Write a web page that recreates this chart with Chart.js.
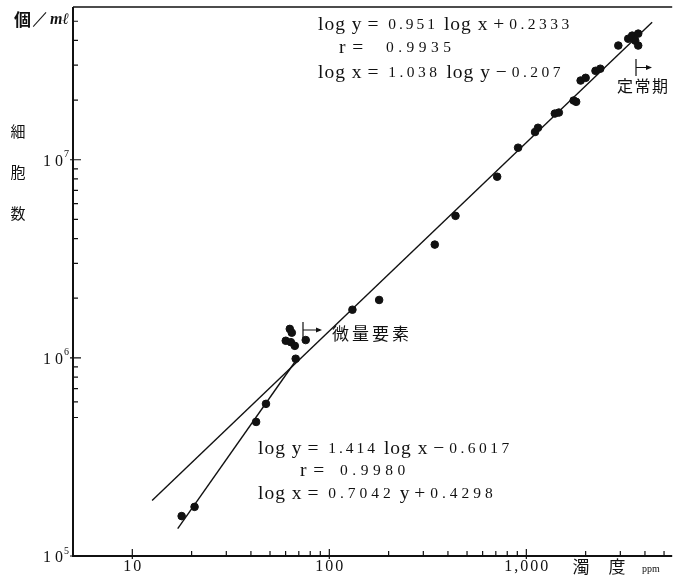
<!DOCTYPE html>
<html>
<head>
<meta charset="utf-8">
<script src="https://cdn.jsdelivr.net/npm/chart.js@4"></script>
<style>
  body { margin: 0; background: #fff; }
  canvas { display: block; }
</style>
</head>
<body>
<canvas id="myChart" width="677" height="578"></canvas>
<script>
// turbidity (ppm) against cell count (cells per ml)
const turbidity = [17.8, 20.7, 42.5, 47.7, 67.5, 63.0, 64.5, 60.1, 63.8, 66.8, 75.9,
  131, 179, 343, 437, 711, 908, 1107, 1146, 1395, 1462, 1738, 1790, 1886, 2000,
  2244, 2373, 2930, 3289, 3445, 3569, 3697, 3697];
const cellCount = [1.59e5, 1.77e5, 4.75e5, 5.86e5, 9.9e5, 1.40e6, 1.34e6, 1.22e6, 1.20e6, 1.15e6, 1.23e6,
  1.75e6, 1.96e6, 3.73e6, 5.21e6, 8.21e6, 1.15e7, 1.38e7, 1.45e7, 1.71e7, 1.73e7, 1.99e7, 1.96e7, 2.51e7, 2.59e7,
  2.81e7, 2.88e7, 3.77e7, 4.08e7, 4.23e7, 3.99e7, 4.33e7, 3.77e7];

// regression lines, y counted in units of 10^4 cells/ml
const fitAll = { slope: 0.951, intercept: 0.2333, from: 12.6, to: 4350 };
const fitEarly = { slope: 1.414, intercept: -0.6017, from: 17.0, to: 67 };

const xMajorTicks = [10, 100, 1000];
const xTickLabels = ['10', '100', '1,000'];
const xMinorTicks = [20, 30, 40, 50, 60, 70, 80, 90, 200, 300, 400, 500, 600, 700, 800, 900, 2000, 3000, 4000, 5000];
const yMajorTicks = [1e5, 1e6, 1e7];
const yTickExponents = ['5', '6', '7'];
const yMinorTicks = [5e5, 6e5, 7e5, 8e5, 9e5, 2e6, 3e6, 4e6, 5e6, 6e6, 7e6, 8e6, 9e6, 2e7, 3e7, 4e7, 5e7];

const fitLine = f => [f.from, f.to].map(v => ({ x: v, y: Math.pow(10, f.slope * Math.log10(v) + f.intercept) * 1e4 }));

const SERIF = '"Liberation Serif", "DejaVu Serif", serif';
const CJK = '"Noto Sans CJK JP", sans-serif';

function seg(ctx, parts, x, y) {
  parts.forEach(([text, font, spacing]) => {
    ctx.font = font;
    ctx.letterSpacing = (spacing || 0) + 'px';
    ctx.fillText(text, x, y);
    x += ctx.measureText(text).width;
  });
  ctx.letterSpacing = '0px';
}

function arrow(ctx, x, y0, y1, len) {
  const ym = (y0 + y1) / 2;
  ctx.lineWidth = 1.2;
  ctx.beginPath();
  ctx.moveTo(x, y0); ctx.lineTo(x, y1);
  ctx.moveTo(x, ym); ctx.lineTo(x + len, ym);
  ctx.stroke();
  ctx.beginPath();
  ctx.moveTo(x + len + 2, ym); ctx.lineTo(x + len - 4, ym - 2.5); ctx.lineTo(x + len - 4, ym + 2.5);
  ctx.closePath();
  ctx.fill();
}

const decorations = {
  id: 'decorations',
  afterDraw(chart) {
    const { ctx, chartArea: a, scales: { x, y } } = chart;
    ctx.save();
    ctx.strokeStyle = '#111';
    ctx.fillStyle = '#111';

    // axes and top frame
    ctx.lineWidth = 2;
    ctx.beginPath();
    ctx.moveTo(a.left, a.top); ctx.lineTo(a.left, a.bottom); ctx.lineTo(a.right, a.bottom);
    ctx.stroke();
    ctx.lineWidth = 1.5;
    ctx.beginPath();
    ctx.moveTo(a.left, a.top); ctx.lineTo(a.right, a.top);
    ctx.stroke();

    ctx.lineWidth = 1.2;
    ctx.beginPath();
    xMinorTicks.forEach(v => { const p = x.getPixelForValue(v); ctx.moveTo(p, a.bottom); ctx.lineTo(p, a.bottom - 5); });
    xMajorTicks.forEach(v => { const p = x.getPixelForValue(v); ctx.moveTo(p, a.bottom + 3); ctx.lineTo(p, a.bottom - 7); });
    yMinorTicks.forEach(v => { const p = y.getPixelForValue(v); ctx.moveTo(a.left, p); ctx.lineTo(a.left + 5, p); });
    yMajorTicks.forEach(v => { const p = y.getPixelForValue(v); ctx.moveTo(a.left - 3, p); ctx.lineTo(a.left + 8, p); });
    ctx.stroke();

    // tick labels
    ctx.textBaseline = 'middle';
    ctx.textAlign = 'center';
    ctx.font = '16px ' + SERIF;
    ctx.letterSpacing = '2px';
    xMajorTicks.forEach((v, i) => ctx.fillText(xTickLabels[i], x.getPixelForValue(v) + 1, a.bottom + 11));
    yMajorTicks.forEach((v, i) => {
      const p = y.getPixelForValue(v);
      ctx.textAlign = 'right';
      ctx.font = '16px ' + SERIF;
      ctx.letterSpacing = '4px';
      ctx.fillText('10', a.left - 6, p + 2);
      ctx.textAlign = 'left';
      ctx.font = '10px ' + SERIF;
      ctx.letterSpacing = '0px';
      ctx.fillText(yTickExponents[i], a.left - 9, p - 5);
    });
    ctx.letterSpacing = '0px';

    // axis titles
    ctx.textAlign = 'center';
    ctx.font = '17px ' + CJK;
    ctx.fillText('濁', 581, a.bottom + 11);
    ctx.fillText('度', 617, a.bottom + 11);
    ctx.font = '10px ' + SERIF;
    ctx.fillText('ppm', 651, a.bottom + 13);

    ctx.textAlign = 'left';
    ctx.font = 'bold 17px ' + CJK;
    ctx.fillText('個', 14, 20);
    ctx.font = '17px ' + SERIF;
    ctx.fillText('／', 32, 20);
    ctx.font = 'italic bold 16px ' + SERIF;
    ctx.fillText('mℓ', 50, 20);
    ctx.textAlign = 'center';
    ctx.font = '15px ' + CJK;
    ctx.fillText('細', 18, 131);
    ctx.fillText('胞', 18, 172);
    ctx.fillText('数', 18, 213);

    // regression formulas
    ctx.textAlign = 'left';
    const big = '19.5px ' + SERIF;
    const num = '15.5px ' + SERIF;
    seg(ctx, [['log y', big, 1], [' =  ', big], ['0.951', num, 3], [' log x', big, 1], [' + ', big], ['0.2333', num, 3.5]], 318, 25);
    seg(ctx, [['r', big], [' =   ', big, 2], ['0.9935', num, 4.5]], 339, 48);
    seg(ctx, [['log x', big, 1], [' =  ', big], ['1.038', num, 3.5], [' log y', big, 1], [' − ', big], ['0.207', num, 3.5]], 318, 73);

    seg(ctx, [['log y', big, 1], [' =  ', big], ['1.414', num, 3], [' log x', big, 1], [' − ', big], ['0.6017', num, 3.5]], 258, 449);
    seg(ctx, [['r', big], [' =  ', big, 2], ['0.9980', num, 4.5]], 300, 471);
    seg(ctx, [['log x', big, 1], [' =  ', big], ['0.7042', num, 4], [' y', big], [' + ', big], ['0.4298', num, 4]], 258, 494);

    // phase annotations
    arrow(ctx, 303, 322, 338, 17);
    ctx.font = '17px ' + CJK;
    ctx.letterSpacing = '3px';
    ctx.fillText('微量要素', 332, 334);
    arrow(ctx, 636, 59, 76, 14);
    ctx.font = '16px ' + CJK;
    ctx.letterSpacing = '1.5px';
    ctx.fillText('定常期', 617, 86);
    ctx.restore();
  }
};

const ctx = document.getElementById('myChart').getContext('2d');
new Chart(ctx, {
  type: 'scatter',
  data: {
    datasets: [
      {
        label: '細胞数',
        data: turbidity.map((v, i) => ({ x: v, y: cellCount[i] })),
        backgroundColor: '#111',
        borderColor: '#111',
        pointRadius: 3.8,
        pointHoverRadius: 3.8,
      },
      {
        label: 'fitAll',
        data: fitLine(fitAll),
        showLine: true,
        borderColor: '#111',
        borderWidth: 1.4,
        pointRadius: 0,
      },
      {
        label: 'fitEarly',
        data: fitLine(fitEarly),
        showLine: true,
        borderColor: '#111',
        borderWidth: 1.4,
        pointRadius: 0,
      },
    ],
  },
  options: {
    responsive: false,
    animation: false,
    layout: { padding: { left: 73, top: 7, right: 0, bottom: 22 } },
    scales: {
      x: { type: 'logarithmic', min: 5, max: 5500, display: false },
      y: { type: 'logarithmic', min: 1e5, max: 5.9e7, display: false },
    },
    plugins: {
      legend: { display: false },
      tooltip: { enabled: false },
    },
  },
  plugins: [decorations],
});
</script>
</body>
</html>
